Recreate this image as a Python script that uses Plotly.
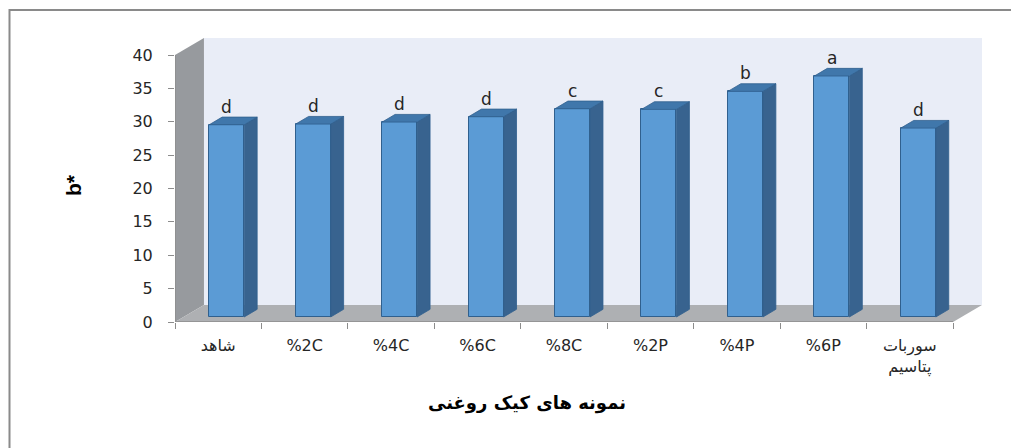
import plotly.graph_objects as go

# ---- data ----
categories = ["شاهد", "%2C", "%4C", "%6C", "%8C", "%2P", "%4P", "%6P", "سوربات<br>پتاسیم"]
values = [28.8, 28.9, 29.2, 30.0, 31.2, 31.1, 33.8, 36.1, 28.3]
letters = ["d", "d", "d", "d", "c", "c", "b", "a", "d"]
y_ticks = [0, 5, 10, 15, 20, 25, 30, 35, 40]

# ---- 3D-look geometry (data units) ----
W_DX, W_DY = 0.335, 2.55        # depth of floor / walls
B_OFF_X, B_OFF_Y = 0.098, 0.75  # bar front-face offset (mid depth)
B_W = 0.405                     # bar width
B_DX, B_DY = 0.150, 1.15        # bar depth
n = len(categories)
xmin, xmax = -0.5, n - 0.5
ymax = 40

FRONT = "#5B9BD5"
SIDE = "#38638F"
TOP = "#4077AB"
EDGE = "#30608E"
AXIS = "#8C8C8C"

# page layout (body margin of 8px in the page)
PAGE_OFF = 8
FIG_W, FIG_H = 1011, 440
ML, MR, MT, MB = 167, 37, 30, 126
PW = FIG_W - ML - MR
PH = FIG_H - MT - MB


def px_x(sx):
    return (sx - PAGE_OFF - ML) / PW


def px_y(sy):
    return (FIG_H - MB - (sy - PAGE_OFF)) / PH


pos = list(range(n))
front_x = [p + B_OFF_X for p in pos]

fig = go.Figure()

sx, sy = [], []
tx, ty = [], []
for p, v in zip(pos, values):
    x0 = p + B_OFF_X - B_W / 2
    x1 = p + B_OFF_X + B_W / 2
    base = B_OFF_Y
    top = B_OFF_Y + v
    sx += [x1, x1, x1 + B_DX, x1 + B_DX, x1, None]
    sy += [base, top, top + B_DY, base + B_DY, base, None]
    tx += [x0, x1, x1 + B_DX, x0 + B_DX, x0, None]
    ty += [top, top, top + B_DY, top + B_DY, top, None]

fig.add_trace(go.Scatter(x=sx, y=sy, mode="lines", fill="toself", fillcolor=SIDE,
                         line=dict(color=EDGE, width=0.8), hoverinfo="skip", showlegend=False))
fig.add_trace(go.Scatter(x=tx, y=ty, mode="lines", fill="toself", fillcolor=TOP,
                         line=dict(color=EDGE, width=0.8), hoverinfo="skip", showlegend=False))
fig.add_trace(go.Bar(x=front_x, y=values, base=[B_OFF_Y] * n, width=B_W,
                     marker=dict(color=FRONT, line=dict(color=EDGE, width=1)),
                     showlegend=False))

shapes = []
# back wall
shapes.append(dict(type="rect", xref="x", yref="y", x0=xmin + W_DX, x1=xmax + W_DX,
                   y0=W_DY, y1=ymax + W_DY, fillcolor="#E9EDF7", line=dict(width=0), layer="below"))
# left wall
shapes.append(dict(type="path", xref="x", yref="y",
                   path=f"M {xmin} 0 L {xmin} {ymax} L {xmin + W_DX} {ymax + W_DY} L {xmin + W_DX} {W_DY} Z",
                   fillcolor="#979A9E", line=dict(width=0), layer="below"))
# floor
shapes.append(dict(type="path", xref="x", yref="y",
                   path=f"M {xmin} 0 L {xmax} 0 L {xmax + W_DX} {W_DY} L {xmin + W_DX} {W_DY} Z",
                   fillcolor="#AEB0B3", line=dict(width=0), layer="below"))
# axis lines
shapes.append(dict(type="line", xref="x", yref="y", x0=xmin, x1=xmin, y0=0, y1=ymax,
                   line=dict(color=AXIS, width=1.5)))
shapes.append(dict(type="line", xref="x", yref="y", x0=xmin, x1=xmax, y0=0, y1=0,
                   line=dict(color=AXIS, width=1.5)))
# outer chart border
shapes.append(dict(type="rect", xref="paper", yref="paper",
                   x0=px_x(9.5), x1=1.3, y0=-0.8, y1=px_y(10),
                   line=dict(color="#8A8A8A", width=2), fillcolor="rgba(0,0,0,0)", layer="below"))

annotations = []
for xv, v, L in zip(front_x, values, letters):
    annotations.append(dict(x=xv, y=B_OFF_Y + v, xref="x", yref="y", text=L, showarrow=False,
                            yanchor="middle", yshift=18,
                            font=dict(family="DejaVu Sans", size=17, color="#262626")))

annotations.append(dict(x=px_x(73), y=px_y(185), xref="paper", yref="paper",
                        xanchor="center", yanchor="middle",
                        text="<b>b*</b>", showarrow=False, textangle=-90,
                        font=dict(family="Liberation Sans", size=21, color="#000000")))
annotations.append(dict(x=px_x(527), y=px_y(403), xref="paper", yref="paper",
                        xanchor="center", yanchor="middle",
                        text="<b>نمونه های کیک روغنی</b>", showarrow=False,
                        font=dict(family="DejaVu Sans", size=18, color="#000000")))

fig.update_layout(
    width=FIG_W, height=FIG_H,
    margin=dict(l=ML, r=MR, t=MT, b=MB),
    paper_bgcolor="white", plot_bgcolor="rgba(0,0,0,0)",
    shapes=shapes, annotations=annotations,
    bargap=0,
    xaxis=dict(range=[xmin, xmax + W_DX], tickvals=pos, ticktext=categories,
               showgrid=False, zeroline=False, showline=False, ticks="",
               ticklabelstandoff=12,
               tickfont=dict(family="DejaVu Sans", size=16, color="#262626"),
               minor=dict(tickvals=[p - 0.5 for p in pos] + [xmax], ticks="outside",
                          ticklen=6, tickcolor=AXIS, showgrid=False)),
    yaxis=dict(range=[0, ymax + W_DY], tickvals=y_ticks, showgrid=False, zeroline=False,
               showline=False, ticks="outside", ticklen=6, tickcolor=AXIS,
               ticklabelstandoff=12,
               tickfont=dict(family="DejaVu Sans", size=16, color="#262626")),
)

fig.write_html("out.html")
